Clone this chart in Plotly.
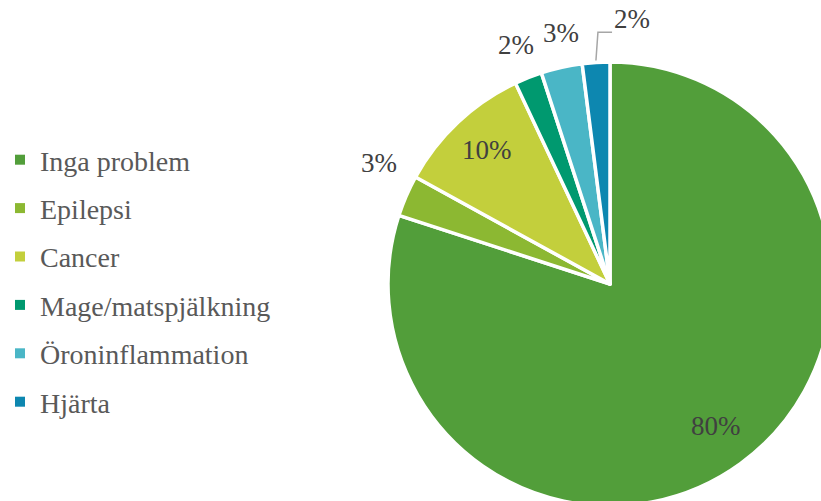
import math
import plotly.graph_objects as go

categories = ["Inga problem", "Epilepsi", "Cancer", "Mage/matspjälkning", "Öroninflammation", "Hjärta"]
values = [80, 3, 10, 2, 3, 2]
colors = ["#529E3A", "#8CB832", "#C3CF3C", "#00996F", "#4AB6C6", "#0D87B0"]
label_inside = [True, False, True, False, False, False]

# layout / style constants (pixels)
W, H = 840, 512
PIE_X = [388, 832]
PIE_Y = [62, 506]          # top, bottom in px from top
FONT = "Liberation Serif"
IN_R, OUT_R = 0.81, 1.145   # label radii as fraction of pie radius
NUDGE = {1: (2, -17), 4: (6, 0), 5: (38, -8)}   # label nudges (px)
CONNECTOR = {5}                                  # labels drawn with a leader line

cx = (PIE_X[0] + PIE_X[1]) / 2
cy = (PIE_Y[0] + PIE_Y[1]) / 2
r = (PIE_X[1] - PIE_X[0]) / 2

def px(x):
    return x / W

def py(y):
    return 1 - y / H

fig = go.Figure()
fig.add_trace(go.Pie(
    labels=categories, values=values, sort=False, direction="clockwise", rotation=0,
    marker=dict(colors=colors, line=dict(color="white", width=3.5)),
    textinfo="none", showlegend=False, hoverinfo="label+percent",
    domain=dict(x=[px(PIE_X[0]), px(PIE_X[1])], y=[py(PIE_Y[1]), py(PIE_Y[0])]),
))
for name, col in zip(categories, colors):
    fig.add_trace(go.Scatter(
        x=[None], y=[None], mode="markers", name=name, legendgroup=name,
        marker=dict(symbol="square", size=10, color=col),
    ))

total = sum(values)
annotations, shapes = [], []
cum = 0
for i, v in enumerate(values):
    mid = (cum + v / 2) / total * 2 * math.pi
    cum += v
    dx, dy = math.sin(mid), -math.cos(mid)
    rr = r * (IN_R if label_inside[i] else OUT_R)
    lx, ly = cx + rr * dx, cy + rr * dy
    nx, ny = NUDGE.get(i, (0, 0))
    lx, ly = lx + nx, ly + ny
    if i in CONNECTOR:
        ex, ey = cx + (r + 2) * dx, cy + (r + 2) * dy
        elbow_y = ly + 10
        end_x = lx - 20
        shapes.append(dict(
            type="path", xref="paper", yref="paper",
            path=f"M {px(ex)},{py(ey)} L {px(ex + 2)},{py(elbow_y)} L {px(end_x)},{py(elbow_y)}",
            line=dict(color="#A6A6A6", width=1.5),
        ))
    annotations.append(dict(
        x=px(lx), y=py(ly), xref="paper", yref="paper", text=f"{v}%",
        showarrow=False, xanchor="center", yanchor="middle", yshift=3,
        font=dict(family=FONT, size=27, color="#404040"),
    ))

fig.update_layout(
    width=W, height=H, margin=dict(l=0, r=0, t=0, b=0),
    paper_bgcolor="white", plot_bgcolor="white",
    xaxis=dict(visible=False), yaxis=dict(visible=False),
    annotations=annotations, shapes=shapes,
    legend=dict(x=0, y=py(135), xanchor="left", yanchor="top",
                font=dict(family=FONT, size=28, color="#595959"),
                tracegroupgap=9, bgcolor="rgba(0,0,0,0)"),
)
fig.write_html("out.html", config={"displayModeBar": False},
               post_script="document.body.style.margin='0';document.body.style.overflow='hidden';")
